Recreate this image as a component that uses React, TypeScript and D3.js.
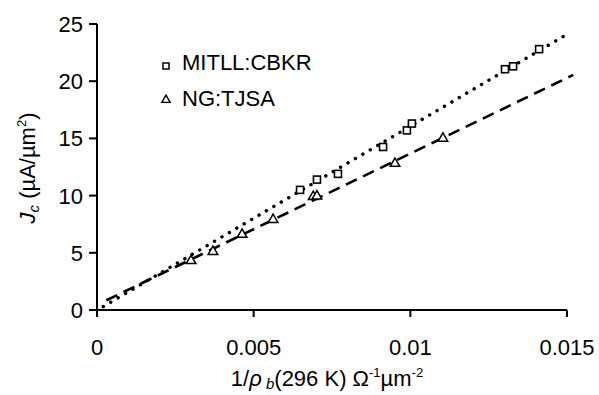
import React from 'react';
import * as d3 from 'd3';

// MITLL:CBKR (squares)
const mitX = [0.00648, 0.00702, 0.00769, 0.00913, 0.00989, 0.01005, 0.01302, 0.01328, 0.01411];
const mitY = [10.5, 11.4, 11.9, 14.25, 15.7, 16.3, 21.05, 21.3, 22.8];
// NG:TJSA (triangles)
const ngX = [0.0030, 0.0037, 0.00463, 0.00562, 0.0069, 0.00702, 0.00951, 0.01104];
const ngY = [4.3, 5.1, 6.6, 7.9, 9.9, 9.95, 12.8, 15.0];
// fit lines [x0, y0, x1, y1]
const mitFit = [0.0002, 0.3, 0.015, 24.1];
const ngFit = [0.0003, 0.85, 0.0152, 20.55];

const xTicks = [0, 0.005, 0.01, 0.015];
const xTickLabels = ['0', '0.005', '0.01', '0.015'];
const yTicks = [0, 5, 10, 15, 20, 25];

const W = 599;
const H = 395;
const font = '"Liberation Sans", Arial, Helvetica, sans-serif';

export default function App() {
  const x = d3.scaleLinear().domain([0, 0.015]).range([97, 567]);
  const y = d3.scaleLinear().domain([0, 25]).range([310, 24]);

  const line = d3
    .line<number[]>()
    .x((d) => x(d[0]))
    .y((d) => y(d[1]));

  const tri = d3.symbol().type(d3.symbolTriangle).size(40)();

  return (
    <svg
      width={W}
      height={H}
      style={{ position: 'absolute', left: 0, top: 0, background: '#fff' }}
      fontFamily={font}
    >
      {/* fit lines */}
      <path
        d={line([[mitFit[0], mitFit[1]], [mitFit[2], mitFit[3]]]) || ''}
        stroke="#000"
        strokeWidth={3.4}
        strokeDasharray="0.1 8.5"
        strokeLinecap="round"
        fill="none"
      />
      <path
        d={line([[ngFit[0], ngFit[1]], [ngFit[2], ngFit[3]]]) || ''}
        stroke="#000"
        strokeWidth={2.6}
        strokeDasharray="12 7"
        fill="none"
      />

      {/* markers */}
      {mitX.map((v, i) => (
        <rect
          key={'m' + i}
          x={x(v) - 3.5}
          y={y(mitY[i]) - 3.5}
          width={7}
          height={7}
          fill="#fff"
          stroke="#000"
          strokeWidth={1.6}
        />
      ))}
      {ngX.map((v, i) => (
        <path
          key={'n' + i}
          d={tri || ''}
          transform={`translate(${x(v)},${y(ngY[i])})`}
          fill="#fff"
          stroke="#000"
          strokeWidth={1.5}
        />
      ))}

      {/* axes */}
      <line x1={x(0)} x2={x(0)} y1={y(25)} y2={y(0)} stroke="#000" strokeWidth={2} />
      <line x1={x(0)} x2={x(0.015)} y1={y(0)} y2={y(0)} stroke="#000" strokeWidth={2} />
      {yTicks.map((t) => (
        <g key={'yt' + t}>
          <line x1={x(0) - 8} x2={x(0)} y1={y(t)} y2={y(t)} stroke="#000" strokeWidth={2} />
          <text x={83} y={y(t)} dy="0.36em" textAnchor="end" fontSize={22}>
            {t}
          </text>
        </g>
      ))}
      {xTicks.map((t, i) => (
        <g key={'xt' + t}>
          <line x1={x(t)} x2={x(t)} y1={y(0)} y2={y(0) + 7} stroke="#000" strokeWidth={2} />
          <text x={x(t)} y={355} textAnchor="middle" fontSize={22}>
            {xTickLabels[i]}
          </text>
        </g>
      ))}

      {/* axis titles */}
      <text x={327} y={386} textAnchor="middle" fontSize={22}>
        1/<tspan fontStyle="italic">ρ</tspan>
        <tspan fontStyle="italic" fontSize={15} dy={3}> b</tspan>
        <tspan dy={-3}>(296 K) Ω</tspan>
        <tspan fontSize={13} dy={-9}>-1</tspan>
        <tspan dy={9}>µm</tspan>
        <tspan fontSize={13} dy={-9}>-2</tspan>
      </text>
      <text
        transform="translate(35,168) rotate(-90)"
        textAnchor="middle"
        fontSize={22}
      >
        <tspan fontStyle="italic">J</tspan>
        <tspan fontStyle="italic" fontSize={15} dy={4}>c</tspan>
        <tspan dy={-4}> (µA/µm</tspan>
        <tspan fontSize={13} dy={-9}>2</tspan>
        <tspan dy={9}>)</tspan>
      </text>

      {/* legend */}
      <rect x={163} y={63} width={6} height={6} fill="#fff" stroke="#000" strokeWidth={1.5} />
      <text x={182} y={70} fontSize={22}>
        MITLL:CBKR
      </text>
      <path
        d={d3.symbol().type(d3.symbolTriangle).size(30)() || ''}
        transform="translate(166,100)"
        fill="#fff"
        stroke="#000"
        strokeWidth={1.4}
      />
      <text x={182} y={106} fontSize={22}>
        NG:TJSA
      </text>
    </svg>
  );
}
